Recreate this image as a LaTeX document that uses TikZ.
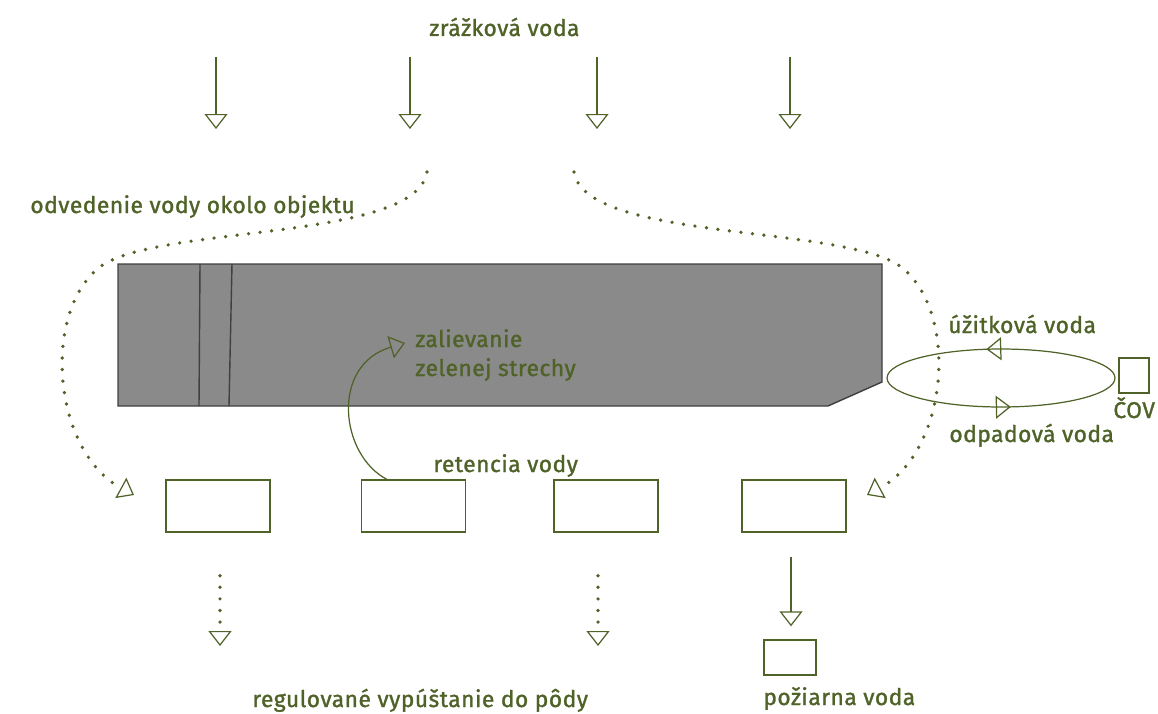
\documentclass[tikz,border=0pt]{standalone}
\usepackage{fontspec}
\setmainfont{Fira Sans}[LetterSpace=2, UprightFeatures={FakeBold=1.3}]
\usepackage{xcolor}
\usepackage{tikz}
\usetikzlibrary{arrows.meta,calc,decorations.markings}
\definecolor{leaf}{HTML}{4F6228}
\definecolor{roof}{RGB}{138,138,138}
\tikzset{
  lbl/.style={text=leaf, font=\fontsize{13}{15}\selectfont, inner sep=0pt, anchor=base west},
  tank/.style={rectangle, draw=leaf, line width=0.8pt, inner sep=0pt,
    minimum width=2.08cm, minimum height=1.04cm},
  flow/.style={draw=leaf, line width=0.7pt, -{Triangle[open, length=3mm, width=4.6mm]}},
  seep/.style={draw=leaf, line width=2.1pt, line cap=round, dash pattern=on 0pt off 6.6pt,
    -{Triangle[open, length=3mm, width=4.6mm, line width=0.7pt]}},
  roofline/.style={draw=black!75, line width=0.8pt},
}

\begin{document}
\begin{tikzpicture}[x=0.02cm, y=-0.02cm]
  \useasboundingbox (0,0) rectangle (1158,713);

  % rain from above
  \node[lbl] (rain) at (429,36) {zrážková voda};
  \foreach \x in {216,410,597,790} {
    \coordinate (top\x) at (\x,57);
    \coordinate (hit\x) at (\x,129);
    \draw[flow] (top\x) -- (hit\x);
  }

  % building
  \draw[roofline, fill=roof] (118,264) -- (882,264) -- (882,382) -- (828,406) -- (118,406) -- cycle;
  \draw[roofline] (200,264) -- (199,406) (232,264) -- (229,406);

  % retention tanks
  \node[tank] (t1) at (218,506) {};
  \node[tank] (t2) at (413.5,506) {};
  \node[tank] (t3) at (606,506) {};
  \node[tank] (t4) at (794,506) {};
  \node[lbl] (ret) at (433,472) {retencia vody};

  % water led around the object
  \coordinate (dl) at (427,172);
  \coordinate (el) at (134,495);
  \coordinate (dr) at (574,172);
  \coordinate (er) at (867,495);
  \draw[seep] (dl) .. controls (416,240) and (171,225) .. (104,264)
    .. controls (41,306) and (51,450) .. (el);
  \draw[seep] (dr) .. controls (585,240) and (830,225) .. (897,264)
    .. controls (960,306) and (950,450) .. (er);
  \node[lbl] (around) at (30,213) {odvedenie vody okolo objektu};

  % watering the green roof
  \coordinate (wet) at (405,343);
  \draw[flow] ($(t2.north west)+(26,0)$) .. controls (340,455) and (330,365) .. (wet);
  \node[lbl] (zal1) at (415,347) {zalievanie};
  \node[lbl] (zal2) at (415,376) {zelenej strechy};

  % grey water loop
  \coordinate (cyc) at (1001,378);
  \draw[leaf, line width=0.7pt, postaction={decorate}, decoration={markings,
      mark=at position 0.28 with {\arrow{Triangle[open, length=3mm, width=4.6mm]}},
      mark=at position 0.77 with {\arrow{Triangle[open, length=3mm, width=4.6mm]}}}]
    (cyc) ellipse [x radius=2.28cm, y radius=0.58cm];
  \node[tank, minimum width=0.6cm, minimum height=0.7cm] (cov) at (1134,375.5) {};
  \node[lbl] (covlbl) at (1113,418) {ČOV};
  \node[lbl] (use) at (948,333) {úžitková voda};
  \node[lbl] (waste) at (949,442) {odpadová voda};

  % outflow
  \coordinate (g1) at (220,646);
  \coordinate (g3) at (598,646);
  \draw[seep] ($(t1.south)+(2,43)$) -- (g1);
  \draw[seep] ($(t3.south)+(-8,43)$) -- (g3);
  \node[lbl] (soil) at (252,707) {regulované vypúštanie do pôdy};

  \node[tank, minimum width=1.04cm, minimum height=0.7cm] (fire) at (790,657.5) {};
  \draw[flow] ($(t4.south)+(-3,24)$) -- ($(fire.north)+(1,-13)$);
  \node[lbl] (firelbl) at (763,705) {požiarna voda};
\end{tikzpicture}
\end{document}
